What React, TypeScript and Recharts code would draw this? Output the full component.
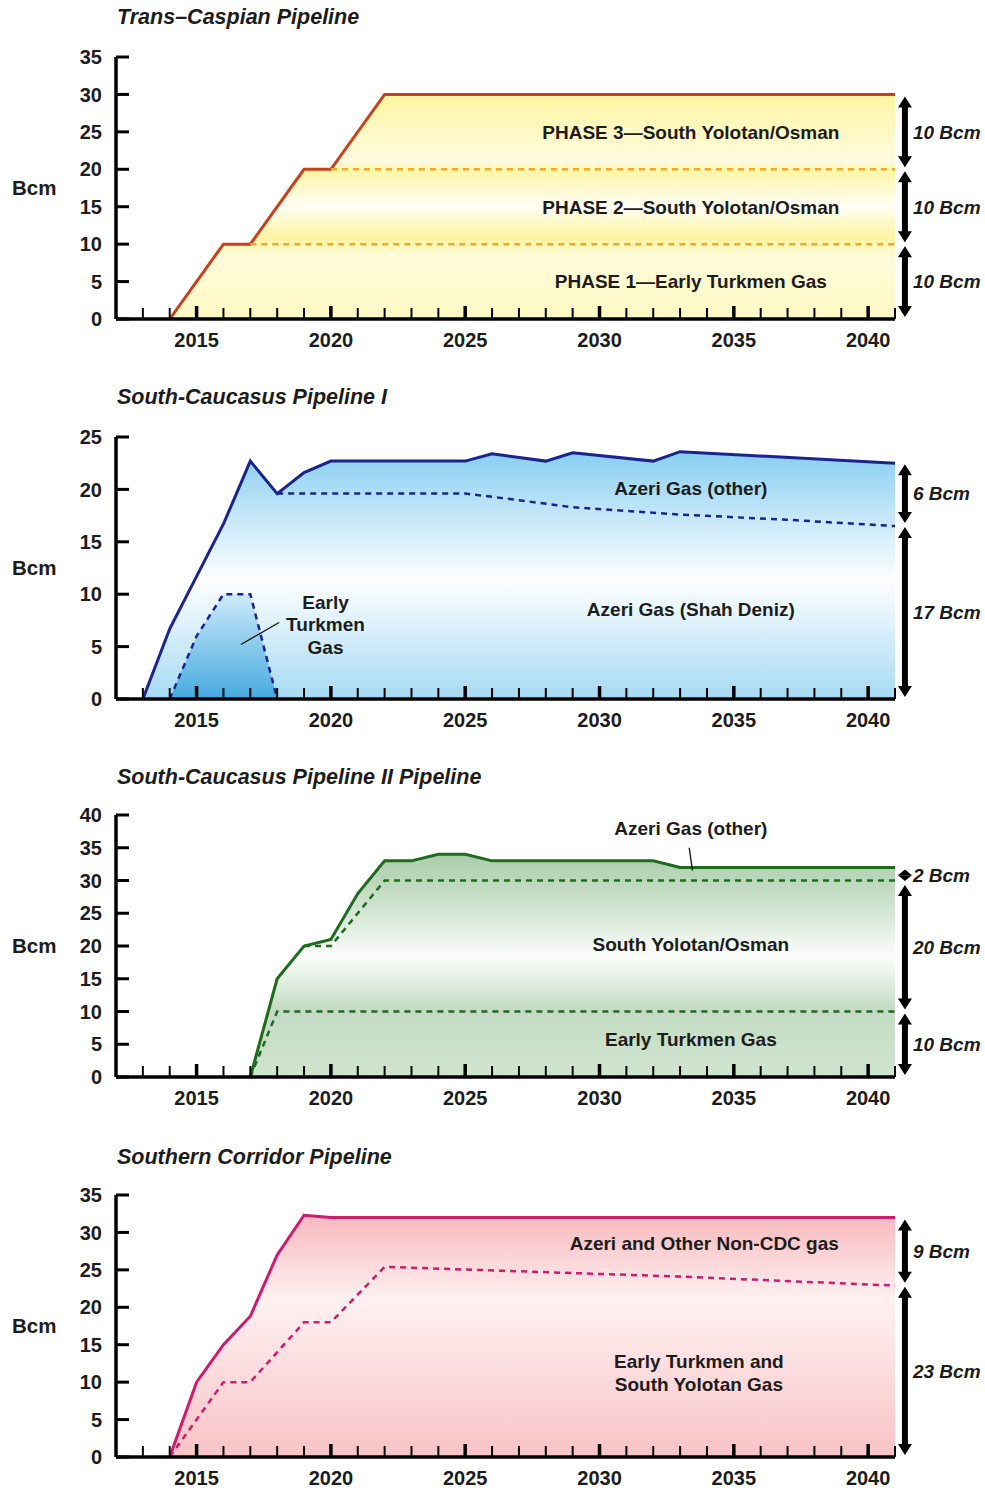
import React from 'react';
import {
  ComposedChart,
  Area,
  Line,
  XAxis,
  YAxis,
  ReferenceLine,
  ReferenceDot,
} from 'recharts';

const FONT = '"Liberation Sans", Arial, Helvetica, sans-serif';
const INK = '#1c1c1c';

// x axis: one tick per year, labels every 5 years
const axisYears = [
  2013, 2014, 2015, 2016, 2017, 2018, 2019, 2020, 2021, 2022, 2023, 2024, 2025, 2026, 2027,
  2028, 2029, 2030, 2031, 2032, 2033, 2034, 2035, 2036, 2037, 2038, 2039, 2040, 2041,
];
const labelYears = [2015, 2020, 2025, 2030, 2035, 2040];

// --- Trans-Caspian Pipeline ---
const tcpTicks = [0, 5, 10, 15, 20, 25, 30, 35];
const tcpTotalYears = [2014, 2016, 2017, 2019, 2020, 2022, 2041];
const tcpTotal = [0, 10, 10, 20, 20, 30, 30];
const tcpPhase1Years = [2017, 2041];
const tcpPhase1 = [10, 10];
const tcpPhase2Years = [2020, 2041];
const tcpPhase2 = [20, 20];
const tcpBlocks = [[0, 10], [10, 20], [20, 30]];
const tcpBlockLabels = ['10 Bcm', '10 Bcm', '10 Bcm'];

// --- South-Caucasus Pipeline I ---
const scp1Ticks = [0, 5, 10, 15, 20, 25];
const scp1TotalYears = [2013, 2014, 2015, 2016, 2017, 2018, 2019, 2020, 2025, 2026, 2028, 2029, 2032, 2033, 2041];
const scp1Total = [0, 6.7, 11.7, 16.7, 22.7, 19.6, 21.6, 22.7, 22.7, 23.4, 22.7, 23.5, 22.7, 23.6, 22.5];
const scp1ShahYears = [2018, 2025, 2026, 2029, 2033, 2037, 2041];
const scp1Shah = [19.6, 19.6, 19.3, 18.3, 17.6, 17.1, 16.5];
const scp1EarlyYears = [2014, 2015, 2016, 2017, 2018];
const scp1Early = [0, 6, 10, 10, 0];
const scp1Blocks = [[0, 16.6], [16.6, 22.6]];
const scp1BlockLabels = ['17 Bcm', '6 Bcm'];

// --- South-Caucasus Pipeline II ---
const scp2Ticks = [0, 5, 10, 15, 20, 25, 30, 35, 40];
const scp2TotalYears = [2017, 2018, 2019, 2020, 2021, 2022, 2023, 2024, 2025, 2026, 2032, 2033, 2041];
const scp2Total = [0, 15, 20, 21, 28, 33, 33, 34, 34, 33, 33, 32, 32];
const scp2UpperYears = [2019, 2020, 2022, 2041];
const scp2Upper = [20, 20, 30, 30];
const scp2LowerYears = [2017, 2018, 2041];
const scp2Lower = [0, 10, 10];
const scp2Blocks = [[0, 10], [10, 29.6], [29.6, 32]];
const scp2BlockLabels = ['10 Bcm', '20 Bcm', '2 Bcm'];

// --- Southern Corridor Pipeline ---
const scTicks = [0, 5, 10, 15, 20, 25, 30, 35];
const scTotalYears = [2014, 2015, 2016, 2017, 2018, 2019, 2020, 2041];
const scTotal = [0, 10, 15, 18.8, 27, 32.3, 32, 32];
const scSplitYears = [2014, 2015, 2016, 2017, 2019, 2020, 2022, 2033, 2041];
const scSplit = [0, 5, 10, 10, 18, 18, 25.4, 24.1, 22.9];
const scBlocks = [[0, 23], [23, 32]];
const scBlockLabels = ['23 Bcm', '9 Bcm'];

const pts = (years: number[], values: number[]) => years.map((year, i) => ({ year, v: values[i] }));

const renderXTick = (props: any) => {
  const { x, y, payload } = props;
  const major = labelYears.includes(payload.value);
  return (
    <g>
      <line x1={x} x2={x} y1={y} y2={y - (major ? 13 : 11)} stroke="#000" strokeWidth={major ? 3.5 : 2} />
      {major && (
        <text x={x} y={y + 28} textAnchor="middle" fontFamily={FONT} fontSize={20} fontWeight={700} fill={INK}>
          {payload.value}
        </text>
      )}
    </g>
  );
};

const renderYTick = (props: any) => {
  const { x, y, payload } = props;
  return (
    <g>
      <line x1={x} x2={x + 13} y1={y} y2={y} stroke="#000" strokeWidth={3} />
      <text x={x - 14} y={y} dy="0.36em" textAnchor="end" fontFamily={FONT} fontSize={20} fontWeight={700} fill={INK}>
        {payload.value}
      </text>
    </g>
  );
};

// double headed arrow with its size label on the right
const braceShape = (label: string) => (p: any) => {
  const x = Number(p.x1);
  const top = Math.min(Number(p.y1), Number(p.y2)) + 2;
  const bot = Math.max(Number(p.y1), Number(p.y2)) - 2;
  const len = bot - top;
  const head = Math.min(11, len / 2);
  const hw = 7;
  return (
    <g>
      {len > 2 * head && (
        <line x1={x} x2={x} y1={top + head - 2} y2={bot - head + 2} stroke="#000" strokeWidth={6} />
      )}
      <polygon points={`${x},${top} ${x - hw},${top + head} ${x + hw},${top + head}`} fill="#000" />
      <polygon points={`${x},${bot} ${x - hw},${bot - head} ${x + hw},${bot - head}`} fill="#000" />
      <text
        x={x + 8}
        y={(top + bot) / 2}
        dy="0.36em"
        fontFamily={FONT}
        fontSize={19}
        fontStyle="italic"
        fontWeight={700}
        fill={INK}
      >
        {label}
      </text>
    </g>
  );
};

const noteShape = (lines: string[]) => (p: any) => (
  <text x={p.cx} y={p.cy} textAnchor="middle" fontFamily={FONT} fontSize={19} fontWeight={700} fill={INK}>
    {lines.map((l, i) => (
      <tspan key={i} x={p.cx} dy={i === 0 ? `${0.36 - (lines.length - 1) * 0.6}em` : '1.2em'}>
        {l}
      </tspan>
    ))}
  </text>
);

type Note = { lines: string[]; year: number; value: number };
type Pointer = { from: [number, number]; to: [number, number] };

interface PanelProps {
  title: string;
  yTicks: number[];
  gradients: React.ReactNode;
  children: React.ReactNode;
  blocks: number[][];
  blockLabels: string[];
  notes: Note[];
  pointers?: Pointer[];
  plotTop?: number;
}

const BRACE_X = 2041.37;
const PLOT_H = 262;

function Panel({ title, yTicks, gradients, children, blocks, blockLabels, notes, pointers = [], plotTop = 57 }: PanelProps) {
  return (
    <div style={{ position: 'relative', width: 985, height: 380 }}>
      <div
        style={{
          position: 'absolute',
          left: 117,
          top: 7,
          zIndex: 2,
          fontFamily: FONT,
          fontSize: 21.5,
          lineHeight: '21px',
          fontWeight: 700,
          fontStyle: 'italic',
          color: INK,
          whiteSpace: 'nowrap',
        }}
      >
        {title}
      </div>
      <ComposedChart
        width={985}
        height={380}
        margin={{ top: plotTop, right: 90, bottom: 380 - plotTop - PLOT_H - 30, left: 0 }}
      >
        <defs>{gradients}</defs>
        <XAxis
          type="number"
          dataKey="year"
          domain={[2012, 2041]}
          ticks={axisYears}
          interval={0}
          allowDataOverflow
          tickLine={false}
          tickSize={0}
          tickMargin={0}
          height={30}
          axisLine={{ stroke: '#000', strokeWidth: 3.5 }}
          tick={renderXTick}
        />
        <YAxis
          type="number"
          domain={[0, yTicks[yTicks.length - 1]]}
          ticks={yTicks}
          interval={0}
          allowDataOverflow
          tickLine={false}
          tickSize={0}
          tickMargin={0}
          width={116}
          axisLine={{ stroke: '#000', strokeWidth: 3.5 }}
          tick={renderYTick}
          label={{
            value: 'Bcm',
            position: 'insideLeft',
            offset: 12,
            fontFamily: FONT,
            fontSize: 20.5,
            fontWeight: 700,
            fill: INK,
          }}
        />
        {children}
        {pointers.map((p, i) => (
          <ReferenceLine
            key={`ptr-${i}`}
            segment={[
              { x: p.from[0], y: p.from[1] },
              { x: p.to[0], y: p.to[1] },
            ]}
            stroke="#111"
            strokeWidth={1.3}
            ifOverflow="visible"
          />
        ))}
        {notes.map((n, i) => (
          <ReferenceDot key={`note-${i}`} x={n.year} y={n.value} r={1} ifOverflow="visible" shape={noteShape(n.lines)} />
        ))}
        {blocks.map(([lo, hi], i) => (
          <ReferenceLine
            key={`brace-${i}`}
            segment={[
              { x: BRACE_X, y: lo },
              { x: BRACE_X, y: hi },
            ]}
            ifOverflow="visible"
            shape={braceShape(blockLabels[i])}
          />
        ))}
      </ComposedChart>
    </div>
  );
}

const common = { dot: false, activeDot: false, isAnimationActive: false, type: 'linear' as const, dataKey: 'v' };

export default function App() {
  return (
    <div
      style={{
        position: 'absolute',
        left: 0,
        top: 0,
        width: 985,
        height: 1490,
        overflow: 'hidden',
        background: '#fff',
      }}
    >
      <Panel
        title="Trans–Caspian Pipeline"
        yTicks={tcpTicks}
        blocks={tcpBlocks}
        blockLabels={tcpBlockLabels}
        notes={[
          { lines: ['PHASE 3—South Yolotan/Osman'], year: 2033.4, value: 25 },
          { lines: ['PHASE 2—South Yolotan/Osman'], year: 2033.4, value: 15 },
          { lines: ['PHASE 1—Early Turkmen Gas'], year: 2033.4, value: 5 },
        ]}
        gradients={
          <linearGradient id="gYellow" x1="0" y1="0" x2="0" y2="1">
            <stop offset="0" stopColor="#fff5a0" />
            <stop offset="0.3" stopColor="#fffbe0" />
            <stop offset="0.34" stopColor="#fff5a8" />
            <stop offset="0.5" stopColor="#fffef4" />
            <stop offset="0.64" stopColor="#fff4a0" />
            <stop offset="0.72" stopColor="#fffbda" />
            <stop offset="1" stopColor="#fff8c4" />
          </linearGradient>
        }
      >
        <Area {...common} data={pts(tcpTotalYears, tcpTotal)} stroke="#c8401a" strokeWidth={3} fill="url(#gYellow)" fillOpacity={1} />
        <Line {...common} data={pts(tcpPhase1Years, tcpPhase1)} stroke="#f0a830" strokeWidth={2.5} strokeDasharray="6 5" />
        <Line {...common} data={pts(tcpPhase2Years, tcpPhase2)} stroke="#f0a830" strokeWidth={2.5} strokeDasharray="6 5" />
      </Panel>

      <Panel
        title="South-Caucasus Pipeline I"
        yTicks={scp1Ticks}
        blocks={scp1Blocks}
        blockLabels={scp1BlockLabels}
        notes={[
          { lines: ['Azeri Gas (other)'], year: 2033.4, value: 20.1 },
          { lines: ['Azeri Gas (Shah Deniz)'], year: 2033.4, value: 8.6 },
          { lines: ['Early', 'Turkmen', 'Gas'], year: 2019.8, value: 7.1 },
        ]}
        pointers={[{ from: [2016.65, 5.2], to: [2018.07, 7.3] }]}
        gradients={
          <>
            <linearGradient id="gBlue" x1="0" y1="0" x2="0" y2="1">
              <stop offset="0" stopColor="#88cef1" />
              <stop offset="0.25" stopColor="#c2e6f8" />
              <stop offset="0.52" stopColor="#fdfeff" />
              <stop offset="1" stopColor="#a6daf4" />
            </linearGradient>
            <linearGradient id="gBlueDeep" x1="0" y1="0" x2="0" y2="1">
              <stop offset="0" stopColor="#cdeaf9" />
              <stop offset="1" stopColor="#45aae0" />
            </linearGradient>
          </>
        }
      >
        <Area {...common} data={pts(scp1TotalYears, scp1Total)} stroke="#1a2390" strokeWidth={3} fill="url(#gBlue)" fillOpacity={1} />
        <Area
          {...common}
          data={pts(scp1EarlyYears, scp1Early)}
          stroke="#1a2390"
          strokeWidth={2.5}
          strokeDasharray="6 5"
          fill="url(#gBlueDeep)"
          fillOpacity={1}
        />
        <Line {...common} data={pts(scp1ShahYears, scp1Shah)} stroke="#1a2390" strokeWidth={2.5} strokeDasharray="6 5" />
      </Panel>

      <Panel
        title="South-Caucasus Pipeline II Pipeline"
        plotTop={55}
        yTicks={scp2Ticks}
        blocks={scp2Blocks}
        blockLabels={scp2BlockLabels}
        notes={[
          { lines: ['Azeri Gas (other)'], year: 2033.4, value: 38 },
          { lines: ['South Yolotan/Osman'], year: 2033.4, value: 20.3 },
          { lines: ['Early Turkmen Gas'], year: 2033.4, value: 5.8 },
        ]}
        pointers={[{ from: [2033.34, 35], to: [2033.46, 31.5] }]}
        gradients={
          <linearGradient id="gGreen" x1="0" y1="0" x2="0" y2="1">
            <stop offset="0" stopColor="#abcdab" />
            <stop offset="0.15" stopColor="#c0dac0" />
            <stop offset="0.46" stopColor="#fbfdfb" />
            <stop offset="0.7" stopColor="#c2dbc2" />
            <stop offset="1" stopColor="#d0e5d0" />
          </linearGradient>
        }
      >
        <Area {...common} data={pts(scp2TotalYears, scp2Total)} stroke="#1e6a1e" strokeWidth={3} fill="url(#gGreen)" fillOpacity={1} />
        <Line {...common} data={pts(scp2UpperYears, scp2Upper)} stroke="#1e6a1e" strokeWidth={2.5} strokeDasharray="6 5" />
        <Line {...common} data={pts(scp2LowerYears, scp2Lower)} stroke="#1e6a1e" strokeWidth={2.5} strokeDasharray="6 5" />
      </Panel>

      <Panel
        title="Southern Corridor Pipeline"
        plotTop={55}
        yTicks={scTicks}
        blocks={scBlocks}
        blockLabels={scBlockLabels}
        notes={[
          { lines: ['Azeri and Other Non-CDC gas'], year: 2033.9, value: 28.5 },
          { lines: ['Early Turkmen and', 'South Yolotan Gas'], year: 2033.7, value: 11.3 },
        ]}
        gradients={
          <linearGradient id="gPink" x1="0" y1="0" x2="0" y2="1">
            <stop offset="0" stopColor="#f7b8bd" />
            <stop offset="0.35" stopColor="#fff1f1" />
            <stop offset="1" stopColor="#f8c3c6" />
          </linearGradient>
        }
      >
        <Area {...common} data={pts(scTotalYears, scTotal)} stroke="#d01a6e" strokeWidth={3} fill="url(#gPink)" fillOpacity={1} />
        <Line {...common} data={pts(scSplitYears, scSplit)} stroke="#d01a6e" strokeWidth={2.5} strokeDasharray="6 5" />
      </Panel>
    </div>
  );
}
